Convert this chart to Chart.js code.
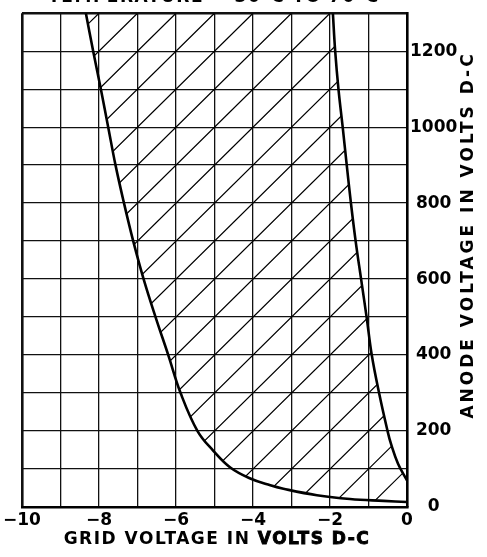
<!DOCTYPE html>
<html>
<head>
<meta charset="utf-8">
<script src="https://cdn.jsdelivr.net/npm/chart.js@4.4.0/dist/chart.umd.min.js"></script>
<style>
  html, body { margin: 0; padding: 0; background: #fff; }
  #wrap { width: 487px; height: 557px; }
</style>
</head>
<body>
<div id="wrap"><canvas id="c" width="487" height="557"></canvas></div>
<script>
// Boundary curves of the operating region (grid volts vs anode volts)
const leftBoundV = [-8.34, -8.15, -7.95, -7.76, -7.57, -7.35, -7.11, -6.84, -6.53, -6.20, -5.88, -5.44, -5.03, -4.59, -4.07, -3.55, -3.21, -2.34, -1.48, -0.61, 0];
const leftBoundA = [1300, 1200, 1100, 1000, 900, 800, 700, 600, 500, 400, 300, 200, 148, 104, 75, 57, 48, 31, 21, 16, 13];

const rightBoundV = [-1.925, -1.865, -1.78, -1.67, -1.565, -1.456, -1.334, -1.192, -1.049, -0.915, -0.725, -0.505, -0.415, -0.233, 0];
const rightBoundA = [1300, 1200, 1100, 1000, 900, 800, 700, 600, 500, 400, 300, 200, 166, 114, 70];

// tick labels
const xTickValues = [-10, -8, -6, -4, -2, 0];
const xTickLabels = ['\u221210', '\u22128', '\u22126', '\u22124', '\u22122', '0'];
const yTickValues = [0, 200, 400, 600, 800, 1000, 1200];
const yTickLabels = ['0', '200', '400', '600', '800', '1000', '1200'];

const X_TITLE_A = 'GRID VOLTAGE IN ';
const X_TITLE_B = 'VOLTS D-C';
const Y_TITLE = 'ANODE VOLTAGE IN VOLTS D-C';
const TOP_TITLE = 'TEMPERATURE = 30\u00b0C TO 70\u00b0C';

const FONT = '"DejaVu Sans", sans-serif';

const toPoints = (xs, ys) => xs.map((v, i) => ({ x: v, y: ys[i] }));

// walk a line element's points, following the bezier control points
function tracePoints(ctx, pts, reverse, first) {
  const list = reverse ? pts.slice().reverse() : pts;
  list.forEach((p, i) => {
    if (i === 0) {
      if (first) ctx.moveTo(p.x, p.y); else ctx.lineTo(p.x, p.y);
      return;
    }
    const prev = list[i - 1];
    if (p.cp1x === undefined) { ctx.lineTo(p.x, p.y); return; }
    if (reverse) ctx.bezierCurveTo(prev.cp1x, prev.cp1y, p.cp2x, p.cp2y, p.x, p.y);
    else ctx.bezierCurveTo(prev.cp2x, prev.cp2y, p.cp1x, p.cp1y, p.x, p.y);
  });
}

// diagonal hatching between the two boundary curves
const hatchPlugin = {
  id: 'hatch',
  beforeDatasetsDraw(chart) {
    const { ctx, chartArea: a, scales: { x, y } } = chart;
    const left = chart.getDatasetMeta(0);
    const right = chart.getDatasetMeta(1);
    left.dataset.updateControlPoints(a, 'x');
    right.dataset.updateControlPoints(a, 'x');

    ctx.save();
    ctx.beginPath();
    ctx.rect(a.left, a.top, a.right - a.left, a.bottom - a.top);
    ctx.clip();
    ctx.beginPath();
    tracePoints(ctx, left.data, false, true);
    tracePoints(ctx, right.data, true, false);
    ctx.closePath();
    ctx.clip();

    // one 45 degree line through every grid crossing (1 V per 100 V)
    ctx.strokeStyle = '#000';
    ctx.lineWidth = 1.2;
    ctx.beginPath();
    for (let k = -24; k <= 1; k++) {
      ctx.moveTo(x.getPixelForValue(k), y.getPixelForValue(0));
      ctx.lineTo(x.getPixelForValue(k + 13), y.getPixelForValue(1300));
    }
    ctx.stroke();
    ctx.restore();
  },
};

// axis titles drawn by hand (right title reads bottom-to-top)
const titlesPlugin = {
  id: 'titles',
  afterDraw(chart) {
    const { ctx } = chart;
    ctx.save();
    ctx.fillStyle = '#000';
    ctx.strokeStyle = '#000';
    ctx.font = `bold 17px ${FONT}`;
    ctx.textBaseline = 'middle';

    // x title: second half heavier
    ctx.letterSpacing = '1.5px';
    const wA = ctx.measureText(X_TITLE_A).width;
    const wB = ctx.measureText(X_TITLE_B).width;
    const sx = 217 - (wA + wB) / 2;
    ctx.textAlign = 'left';
    ctx.fillText(X_TITLE_A, sx, 540);
    ctx.lineWidth = 0.9;
    ctx.fillText(X_TITLE_B, sx + wA, 540);
    ctx.strokeText(X_TITLE_B, sx + wA, 540);

    // top caption, cut off by the page edge
    ctx.textAlign = 'center';
    ctx.textBaseline = 'alphabetic';
    ctx.fillText(TOP_TITLE, 214, 2);

    // right title
    ctx.letterSpacing = '3px';
    ctx.textBaseline = 'middle';
    ctx.translate(469, 235);
    ctx.rotate(-Math.PI / 2);
    ctx.fillText(Y_TITLE, 0, 0);
    ctx.restore();
  },
};

const lineStyle = {
  borderColor: '#000',
  borderWidth: 2.6,
  pointRadius: 0,
  fill: false,
  tension: 0.4,
};

new Chart(document.getElementById('c'), {
  type: 'line',
  data: {
    datasets: [
      { label: 'left', data: toPoints(leftBoundV, leftBoundA), ...lineStyle },
      { label: 'right', data: toPoints(rightBoundV, rightBoundA), ...lineStyle },
    ],
  },
  plugins: [hatchPlugin, titlesPlugin],
  options: {
    responsive: false,
    animation: false,
    devicePixelRatio: 1,
    layout: { padding: { left: 21, top: 5, right: 0, bottom: 0 } },
    scales: {
      x: {
        type: 'linear',
        min: -10,
        max: 0,
        afterFit: (s) => { s.height = 50; },
        grid: {
          color: '#111',
          lineWidth: (c) => (c.tick && c.tick.value === -10 ? 2.6 : 1.3),
          drawTicks: false,
        },
        border: { color: '#000', width: 2.6 },
        ticks: {
          stepSize: 1,
          autoSkip: false,
          maxRotation: 0,
          padding: 3,
          color: '#000',
          font: { family: FONT, size: 17, weight: 'bold' },
          callback: (v) => {
            const i = xTickValues.indexOf(v);
            return i >= 0 ? xTickLabels[i] : '';
          },
        },
      },
      y: {
        position: 'right',
        min: 0,
        max: 1300,
        afterFit: (s) => { s.width = 80; },
        grid: {
          color: '#111',
          lineWidth: (c) => (c.tick && c.tick.value === 1300 ? 2.6 : 1.3),
          drawTicks: false,
        },
        border: { color: '#000', width: 2.6 },
        ticks: {
          stepSize: 100,
          autoSkip: false,
          crossAlign: 'center',
          padding: 3,
          color: '#000',
          font: { family: FONT, size: 17, weight: 'bold' },
          callback: (v) => {
            const i = yTickValues.indexOf(v);
            return i >= 0 ? yTickLabels[i] : '';
          },
        },
      },
    },
    plugins: {
      legend: { display: false },
      tooltip: { enabled: false },
    },
  },
});
</script>
</body>
</html>
